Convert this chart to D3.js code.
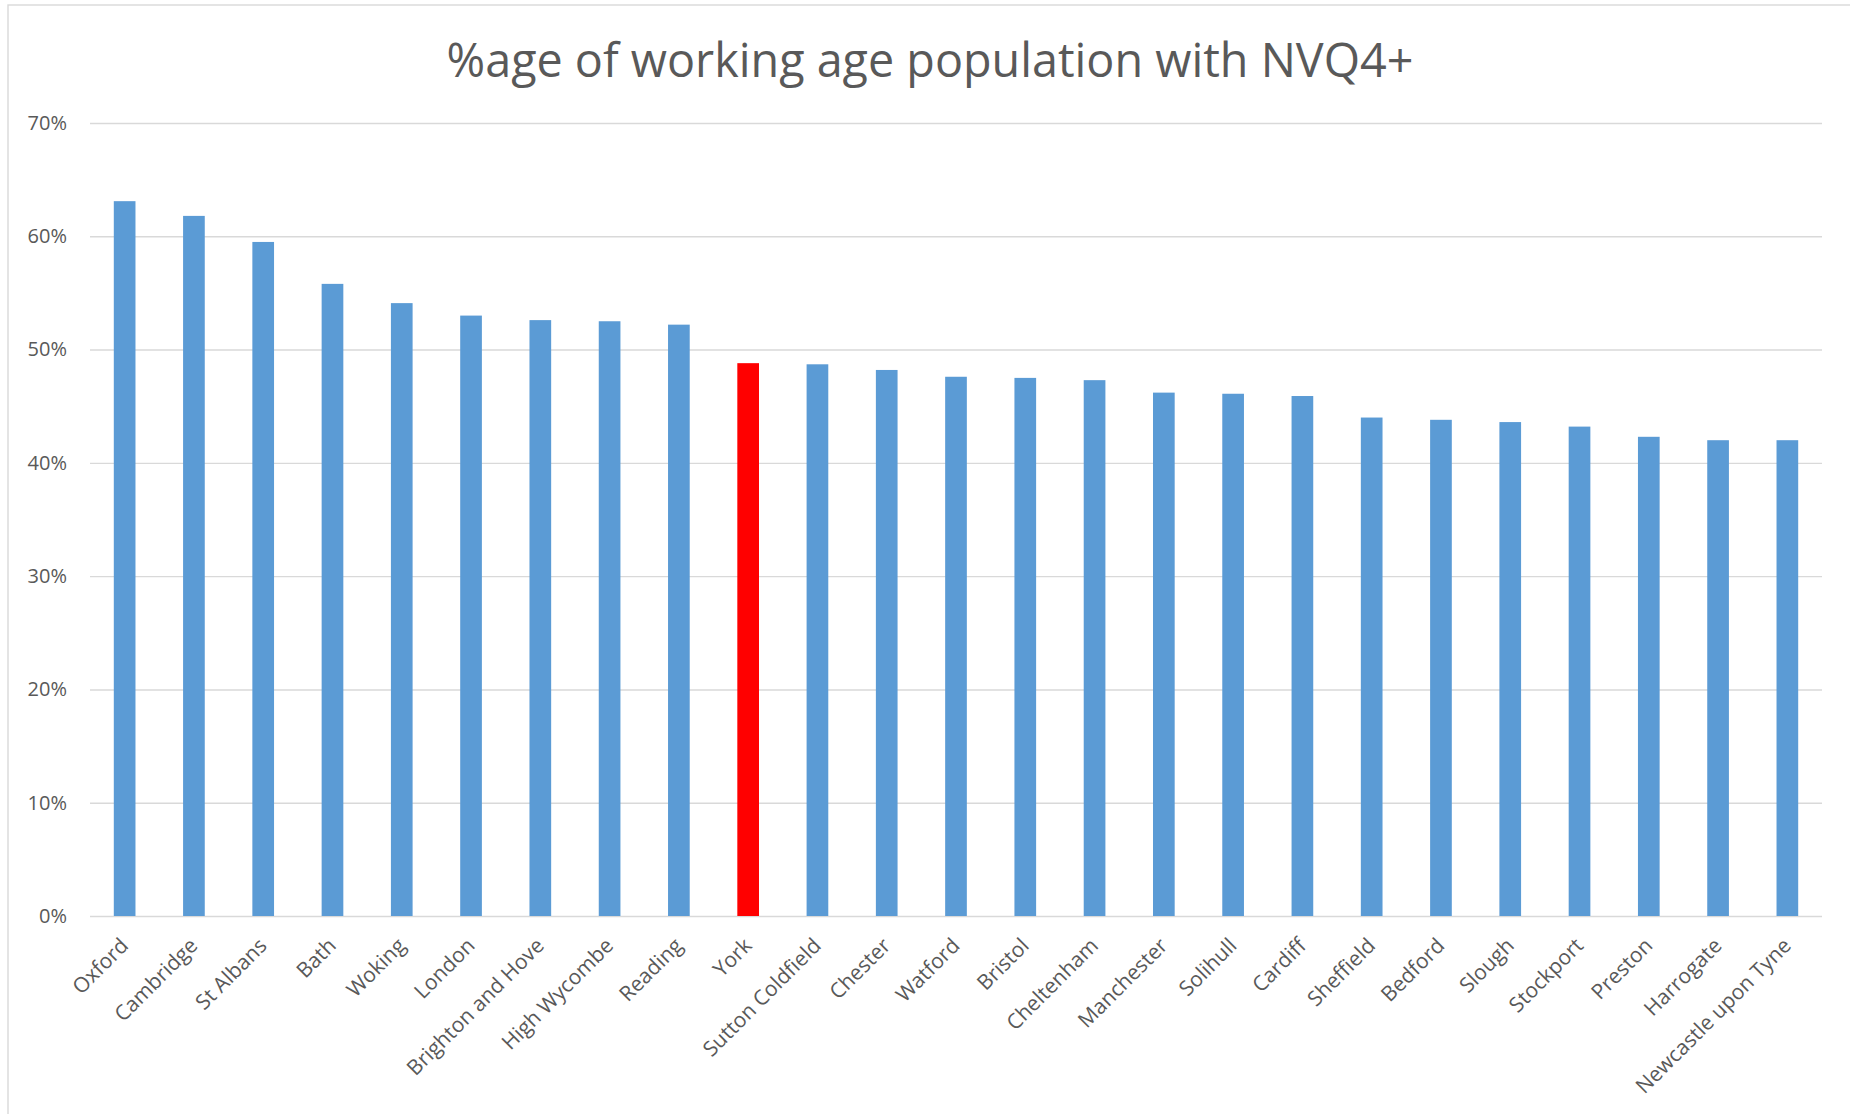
<!DOCTYPE html>
<html>
<head>
<meta charset="utf-8">
<script src="https://cdn.jsdelivr.net/npm/d3@7"></script>
<style>
  body { margin: 0; background: #fff; }
  text { font-family: "Open Sans", "Segoe UI", sans-serif; fill: #595959; }
</style>
</head>
<body>
<svg id="svg" width="1850" height="1114"></svg>
<script>
var title = "%age of working age population with NVQ4+";

var categories = ["Oxford", "Cambridge", "St Albans", "Bath", "Woking", "London",
    "Brighton and Hove", "High Wycombe", "Reading", "York", "Sutton Coldfield",
    "Chester", "Watford", "Bristol", "Cheltenham", "Manchester", "Solihull",
    "Cardiff", "Sheffield", "Bedford", "Slough", "Stockport", "Preston",
    "Harrogate", "Newcastle upon Tyne"];

var values = [0.631, 0.618, 0.595, 0.558, 0.541, 0.530, 0.526, 0.525, 0.522, 0.488,
    0.487, 0.482, 0.476, 0.475, 0.473, 0.462, 0.461, 0.459, 0.440, 0.438,
    0.436, 0.432, 0.423, 0.420, 0.420];

var yTicks = [0, 0.1, 0.2, 0.3, 0.4, 0.5, 0.6, 0.7];

var highlight = "York";

window.onload = function () {
    var svgWidth = 1850;
    var svgHeight = 1114;
    var plot = { left: 90, right: 1822, top: 123, bottom: 916 };

    var svg = d3.select("svg");

    // chart area border (only top / left visible in the original)
    svg.append("rect")
        .attr("x", 8)
        .attr("y", 5)
        .attr("width", svgWidth)
        .attr("height", svgHeight)
        .attr("fill", "none")
        .attr("stroke", "#d9d9d9")
        .attr("stroke-width", 1.4);

    // title, fitted to the width it has in the picture
    var t = svg.append("text")
        .attr("x", 930)
        .attr("y", 77)
        .attr("text-anchor", "middle")
        .attr("font-size", 43)
        .text(title);
    var w = t.node().getComputedTextLength();
    t.attr("font-size", 43 * 967 / w);

    var yScale = d3.scaleLinear()
        .domain([0, 0.7])
        .range([plot.bottom, plot.top]);

    var xScale = d3.scaleBand()
        .domain(categories)
        .range([plot.left, plot.right])
        .paddingInner(0.687)
        .paddingOuter(0.3435);

    var yAxis = d3.axisLeft(yScale)
        .tickValues(yTicks)
        .tickFormat(d3.format(".0%"))
        .tickSize(-(plot.right - plot.left))
        .tickPadding(23);

    var gy = svg.append("g")
        .attr("class", "y-axis")
        .attr("transform", "translate(" + plot.left + ",0)")
        .call(yAxis);
    gy.select(".domain").remove();
    gy.selectAll(".tick line")
        .attr("stroke", "#d9d9d9")
        .attr("stroke-width", 1.4);
    gy.selectAll(".tick text")
        .attr("font-size", 20)
        .attr("fill", "#595959");

    svg.selectAll("rect.bar")
        .data(values)
        .enter()
        .append("rect")
        .attr("class", "bar")
        .attr("x", function (d, i) { return xScale(categories[i]); })
        .attr("y", function (d) { return yScale(d); })
        .attr("width", xScale.bandwidth())
        .attr("height", function (d) { return plot.bottom - yScale(d); })
        .attr("fill", function (d, i) { return categories[i] === highlight ? "#ff0000" : "#5b9bd5"; });

    // category labels, rotated -45
    svg.selectAll("text.cat")
        .data(categories)
        .enter()
        .append("text")
        .attr("class", "cat")
        .attr("font-size", 21)
        .attr("text-anchor", "end")
        .attr("transform", function (d) {
            var cx = xScale(d) + xScale.bandwidth() / 2 + 5;
            return "translate(" + cx + "," + (plot.bottom + 31) + ") rotate(-45)";
        })
        .text(function (d) { return d; });
};
</script>
</body>
</html>
